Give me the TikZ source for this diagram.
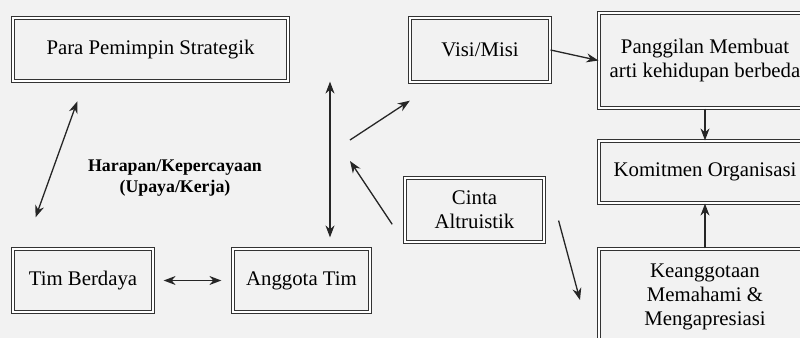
\documentclass[tikz,border=0pt]{standalone}
\usepackage{fontspec}
\setmainfont{Liberation Serif}
\usetikzlibrary{arrows.meta}

\begin{document}
\begin{tikzpicture}[
    x=0.5pt, y=-0.5pt,
    font=\fontsize{10.4}{12}\selectfont,
    box/.style={draw=black!80, double=white, double distance=1.1pt, line width=0.6pt,
                align=center, inner sep=0pt},
    arr/.style={-{Stealth[length=6pt, width=4.5pt]}, draw=black!85, line width=0.65pt},
    arrs/.style={{Stealth[length=6pt, width=4.5pt]}-{Stealth[length=6pt, width=4.5pt]},
                 draw=black!85, line width=0.65pt},
    elab/.style={font=\fontsize{8.9}{10.5}\selectfont\bfseries, align=center}
]
\path[use as bounding box, clip] (0,0) rectangle (800,338);
\fill[black!5] (0,0) rectangle (800,338);

\node[box, minimum width=137.5pt, minimum height=31.5pt] (strat)   at (150.5, 49.5) {Para Pemimpin Strategik};
\node[box, minimum width=70pt,    minimum height=32pt]   (visi)    at (480, 50)     {Visi/Misi};
\node[box, minimum width=106pt,   minimum height=47.5pt] (panggil) at (705, 60.5)   {Panggilan Membuat\\arti kehidupan berbeda};
\node[box, minimum width=106pt,   minimum height=31pt]   (komit)   at (705, 172)    {Komitmen Organisasi};
\node[box, minimum width=106pt,   minimum height=48pt]   (keang)   at (705, 297)    {Keanggotaan\\Memahami \&\\Mengapresiasi};
\node[box, minimum width=69.5pt,  minimum height=32pt]   (cinta)   at (474.5, 210)  {Cinta\\Altruistik};
\node[box, minimum width=70pt,    minimum height=31.5pt] (timb)    at (83, 280.5)   {Tim Berdaya};
\node[box, minimum width=68.5pt,  minimum height=31.5pt] (anggota) at (301.5, 280.5) {Anggota Tim};

\node[elab] (harap) at (175, 178) {Harapan/Kepercayaan\\(Upaya/Kerja)};

\coordinate (hubA) at (350, 161);
\coordinate (hubB) at (350, 140);
\coordinate (kend) at (580, 300);

% pemimpin <-> tim berdaya
\draw[arrs, shorten <=10.5pt, shorten >=16.5pt]
    ([xshift=36pt]strat.south west) -- ([xshift=6pt]timb.north west);

% anggota tim <-> pemimpin
\draw[arrs, shorten <=5.5pt]
    ([xshift=14.25pt]anggota.north) -- ([xshift=14.25pt]anggota.north |- strat.south);

% tim berdaya <-> anggota tim
\draw[arrs, shorten <=5pt, shorten >=5.5pt] (timb) -- (anggota);

% cinta -> visi
\draw[arr, shorten <=11pt] (cinta.south west) -- (hubA);
\draw[arr, shorten >=16.5pt] (hubB) -- ([xshift=14pt]visi.south west);

% visi -> panggilan -> komitmen
\draw[arr] (visi.east) -- (panggil.west);
\draw[arr] (panggil) -- (komit);
\draw[arr] (keang) -- (komit);

% cinta -> keanggotaan
\draw[arr] ([xshift=7pt, yshift=11pt]cinta.south east) -- (kend);

\end{tikzpicture}
\end{document}
